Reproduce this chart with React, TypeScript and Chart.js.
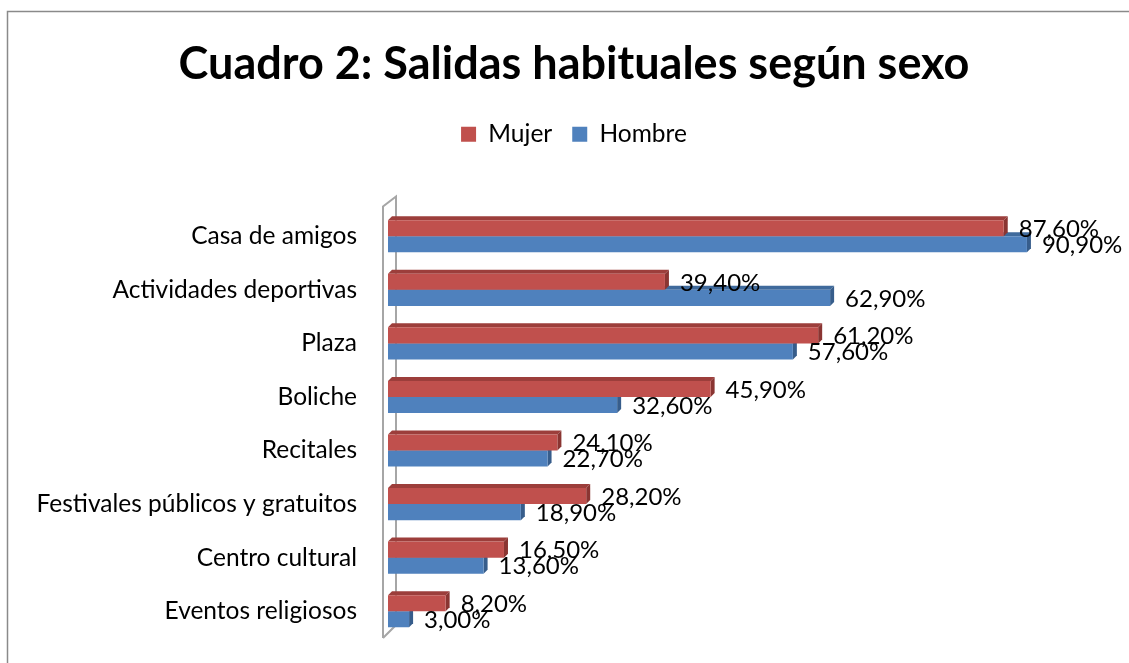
import React, { useEffect, useRef } from "react";
import { Chart, registerables } from "chart.js";

Chart.register(...registerables);

const categories = [
  "Casa de amigos",
  "Actividades deportivas",
  "Plaza",
  "Boliche",
  "Recitales",
  "Festivales públicos y gratuitos",
  "Centro cultural",
  "Eventos religiosos",
];
const mujer = [87.6, 39.4, 61.2, 45.9, 24.1, 28.2, 16.5, 8.2];
const hombre = [90.9, 62.9, 57.6, 32.6, 22.7, 18.9, 13.6, 3.0];
const seriesNames = ["Mujer", "Hombre"];
const titleText = "Cuadro 2: Salidas habituales según sexo";
const axisMin = 0;
const axisMax = 104;

const RED = "#C0504D";
const BLUE = "#4F81BD";
const FACE_TOP = ["#9C3E3B", "#3F6A9C"];
const FACE_SIDE = ["#8A3532", "#375D8B"];
const FONT = "Lato, Carlito, 'Open Sans', sans-serif";

const fmt = (v: number) => v.toFixed(2).replace(".", ",") + "%";

const legendGap = {
  id: "legendGap",
  beforeInit(chart: any) {
    const legend = chart.legend;
    if (!legend) return;
    const origFit = legend.fit;
    legend.fit = function fit() {
      origFit.call(legend);
      this.height += 53;
    };
  },
};

const deco = {
  id: "deco",
  beforeDraw(chart: any) {
    const ctx = chart.ctx;
    ctx.save();
    ctx.fillStyle = "#ffffff";
    ctx.fillRect(0, 0, chart.width, chart.height);
    ctx.strokeStyle = "#8a8a8a";
    ctx.lineWidth = 1.5;
    ctx.beginPath();
    ctx.moveTo(7.5, chart.height + 2);
    ctx.lineTo(7.5, 11.5);
    ctx.lineTo(chart.width + 2, 11.5);
    ctx.stroke();
    ctx.restore();
  },
  beforeDatasetsDraw(chart: any) {
    const ctx = chart.ctx;
    const area = chart.chartArea;
    const dx = 4;
    const dy = 4;
    ctx.save();
    // wall
    ctx.strokeStyle = "#a6a6a6";
    ctx.lineWidth = 2;
    const fx = area.left - 5;
    const bx = area.left + 8;
    ctx.beginPath();
    ctx.moveTo(fx, area.bottom);
    ctx.lineTo(fx, area.top - 3);
    ctx.lineTo(bx, area.top - 13);
    ctx.lineTo(bx, area.bottom - 13);
    ctx.lineTo(fx, area.bottom);
    ctx.stroke();
    // 3D faces, blue first then red
    for (const d of [1, 0]) {
      const meta = chart.getDatasetMeta(d);
      meta.data.forEach((el: any) => {
        const x = el.x;
        const base = el.base;
        const top = el.y - el.height / 2;
        const bottom = el.y + el.height / 2;
        ctx.fillStyle = FACE_TOP[d];
        ctx.beginPath();
        ctx.moveTo(base, top);
        ctx.lineTo(x, top);
        ctx.lineTo(x + dx, top - dy);
        ctx.lineTo(base + dx, top - dy);
        ctx.closePath();
        ctx.fill();
        ctx.fillStyle = FACE_SIDE[d];
        ctx.beginPath();
        ctx.moveTo(x, top);
        ctx.lineTo(x + dx, top - dy);
        ctx.lineTo(x + dx, bottom - dy);
        ctx.lineTo(x, bottom);
        ctx.closePath();
        ctx.fill();
      });
    }
    ctx.restore();
  },
  afterDatasetsDraw(chart: any) {
    const ctx = chart.ctx;
    ctx.save();
    ctx.fillStyle = "#000000";
    ctx.font = `24px ${FONT}`;
    ctx.textAlign = "left";
    ctx.textBaseline = "middle";
    chart.data.datasets.forEach((ds: any, d: number) => {
      const meta = chart.getDatasetMeta(d);
      meta.data.forEach((el: any, i: number) => {
        ctx.fillText(fmt(ds.data[i]), el.x + 15, el.y + 1);
      });
    });
    ctx.restore();
  },
};

export default function App() {
  const ref = useRef<HTMLCanvasElement>(null);
  useEffect(() => {
    document.body.style.margin = "0";
    const chart = new Chart(ref.current!, {
      type: "bar",
      data: {
        labels: categories,
        datasets: [
          { label: seriesNames[0], data: mujer, backgroundColor: RED, borderWidth: 0 },
          { label: seriesNames[1], data: hombre, backgroundColor: BLUE, borderWidth: 0 },
        ],
      },
      options: {
        indexAxis: "y",
        responsive: false,
        animation: false,
        datasets: { bar: { barPercentage: 1, categoryPercentage: 0.6 } },
        layout: { padding: { left: 29, right: 10, top: 0, bottom: 25 } },
        plugins: {
          title: {
            display: true,
            text: titleText,
            color: "#000",
            font: { family: FONT, size: 45, weight: "bold" },
            padding: { top: 37, bottom: 11 },
          },
          legend: {
            display: true,
            position: "top",
            labels: {
              color: "#000",
              font: { family: FONT, size: 24.5 },
              boxWidth: 15,
              boxHeight: 15,
              padding: 20,
            },
          },
          tooltip: { enabled: false },
        },
        scales: {
          x: { display: false, min: axisMin, max: axisMax },
          y: {
            grid: { display: false, drawTicks: false },
            border: { display: false },
            ticks: { color: "#000", font: { family: FONT, size: 24.5 }, padding: 31 },
            afterFit(scale: any) {
              scale.width = 359;
              scale.paddingTop = 0;
              scale.paddingBottom = 0;
            },
          },
        },
      },
      plugins: [legendGap, deco],
    });
    return () => chart.destroy();
  }, []);
  return (
    <div style={{ width: 1129, height: 663 }}>
      <canvas ref={ref} width={1129} height={663} />
    </div>
  );
}
